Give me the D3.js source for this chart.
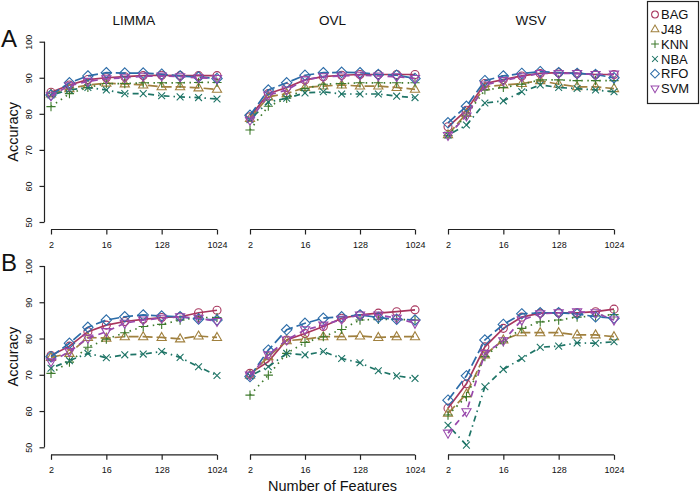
<!DOCTYPE html>
<html><head><meta charset="utf-8">
<script src="https://cdn.jsdelivr.net/npm/d3@7"></script>
<style>body{margin:0;background:#fff}svg{display:block;font-family:"Liberation Sans",Arial,sans-serif}</style>
</head><body><svg id="c" width="700" height="496"></svg>
<script>
const features = [2,4,8,16,32,64,128,256,512,1024];
const classifiers = ["BAG","J48","KNN","NBA","RFO","SVM"];
const methods = ["LIMMA","OVL","WSV"];
const panelLabels = ["A","B"];
const xTicks = [2,16,128,1024];
const yTicks = [50,60,70,80,90,100];
const colors = ["#A8365E","#A0803E","#3E7A2C","#1E7466","#2C6CA8","#9848AC"];
const dashes = ["none","10,4","1.5,4.5","1.5,4,6,4","10,4","6,5"];
const shapes = ["circle","triUp","plus","cross","diamond","triDown"];

// series order: BAG, J48, KNN, NBA, RFO, SVM
const accA_LIMMA = [
  [86,88,89.5,90,90.3,90.6,90.7,90.6,90.6,90.6],
  [85.5,87,88,88.5,88.3,88,87.5,87.5,87.2,86.8],
  [82,85.6,87.3,88.4,88.4,88.6,88.6,88.6,88.7,88.7],
  [85.2,86.6,87.3,86.6,85.6,85.6,85,84.7,84.5,84.1],
  [85.2,88.6,90.5,91.4,91.3,91.3,91,90.5,90.2,89.8],
  [85,87.8,89,89.7,90,90.4,90.5,90.3,90,89.8]
];
const accA_OVL = [
  [79.2,85.6,87.3,89.4,90.3,90.7,90.9,90.9,90.9,90.9],
  [78.7,84.7,85.6,87.3,87.7,88,87.7,87.7,87.3,86.8],
  [75.5,82.1,84.3,87,88.2,88.4,88.6,88.6,88.6,88.6],
  [78.4,83.3,84.3,85.8,86.1,85.5,85.5,85.5,84.9,84.5],
  [79.6,86.6,88.6,90.7,91.4,91.5,91.4,90.9,90.7,89.8],
  [78.2,85.2,86.6,89.4,90.3,90.5,90.7,90.5,90.3,89.8]
];
const accA_WSV = [
  [76.4,81,88.4,89.5,90.5,91.2,91.4,91.2,90.9,90.9],
  [74.2,80.1,87.5,88,88.4,89.2,88.2,87.5,87.5,87],
  [74,79.6,86.6,87.3,88.2,89.4,89.4,89.2,89.2,89.2],
  [74.1,76.9,83,83.6,86.1,88,87.3,87,86.6,86.1],
  [77.5,82.1,89.2,90.5,91.2,91.7,91.4,91.2,90.9,90],
  [74,79.4,88,89.2,90.3,91.2,91.2,91.2,90.9,91]
];
const accB_LIMMA = [
  [75.3,77.9,81.9,83.7,84.7,85.3,85.8,86,87.1,87.8],
  [74.8,75.9,80.3,80.1,80.5,80.5,80.3,79.9,80.7,80.3],
  [70.4,73.5,77.6,79.8,81.6,83.3,83.9,85.1,85.8,85.8],
  [71.8,73.9,75.9,74.7,75.5,75.7,76.4,74.8,72.2,69.8],
  [75,78.7,83.1,85.1,86,86.5,86.2,86,85.4,85.1],
  [73.6,76.4,80.1,81.9,84.2,85.1,85.6,86,85.6,84.7]
];
const accB_OVL = [
  [70.4,73.6,79.6,81.4,83.3,85.6,86.5,87,87.4,87.9],
  [69.9,75,79.4,79.8,80.5,80.5,80.7,80.3,80.5,80.5],
  [64.4,69.9,75.9,78.9,80.5,82.5,85.1,85.3,85.3,85.1],
  [69.7,72.2,75.9,75.5,76.4,74.5,73.3,71.1,69.7,69],
  [69.5,76.8,82.4,84.2,85.6,86,86.5,85.8,85.3,85.1],
  [69.9,75.5,79.6,82.4,83.7,85.3,86.5,86.5,85.6,84.2]
];
const accB_WSV = [
  [60.8,67.5,77.7,82.8,85.9,87,87.1,87.1,87.4,88.1],
  [59.4,64.7,75.5,79.6,81.6,81.6,81.6,81,81,80.5],
  [58.9,64,75,79.1,82.8,84.6,85.1,85.9,86.2,86.6],
  [56.1,50.6,66.7,71.5,74.5,77.6,77.9,78.8,78.7,79.1],
  [63,69.7,79.6,83.9,86.8,87.1,87.1,86.8,86,85.6],
  [53.9,59.8,75.9,79.4,85.1,86.8,87.1,87.4,87.1,85.1]
];
const panelData = [[accA_LIMMA,accA_OVL,accA_WSV],[accB_LIMMA,accB_OVL,accB_WSV]];

const svg = d3.select("#c");
const colX = [[51,217],[250,415],[448,614]];
const rowY = [[222,41.7],[447.3,266]];
const axisOff = 6.5;

function symbolPath(s){
  switch(s){
    case "circle": return "M4,0A4,4 0 1,1 -4,0A4,4 0 1,1 4,0Z";
    case "triUp": return "M0,-5L4.6,3L-4.6,3Z";
    case "triDown": return "M0,5L4.6,-3L-4.6,-3Z";
    case "plus": return "M-4.6,0H4.6M0,-4.6V4.6";
    case "cross": return "M-3.4,-3.4L3.4,3.4M-3.4,3.4L3.4,-3.4";
    case "diamond": return "M0,-5.2L5.2,0L0,5.2L-5.2,0Z";
  }
}

panelLabels.forEach((pl, r) => {
  const y = d3.scaleLinear().domain([50,100]).range(rowY[r]);
  methods.forEach((m, c) => {
    const x = d3.scaleLog().base(2).domain([2,1024]).range(colX[c]);
    const g = svg.append("g");
    const xa = g.append("g").attr("transform",`translate(0,${y(50)+axisOff+1})`)
      .call(d3.axisBottom(x).tickValues(xTicks).tickFormat(d3.format("d")).tickSize(5).tickPadding(7));
    xa.select(".domain").attr("stroke","#222").attr("stroke-width",1.2).attr("d",`M${x(2)},0H${x(1024)}`);
    xa.selectAll(".tick line").attr("stroke","#222").attr("stroke-width",1.2);
    xa.selectAll(".tick text").attr("font-size","9px").attr("fill","#111").attr("font-family","Liberation Sans, Arial, sans-serif");
    if (c === 0) {
      const ya = g.append("g").attr("transform",`translate(${x(2)-axisOff},0)`)
        .call(d3.axisLeft(y).tickValues(yTicks).tickSize(5).tickPadding(3));
      ya.select(".domain").attr("stroke","#222").attr("stroke-width",1.2).attr("d",`M0,${y(50)}V${y(100)}`);
      ya.selectAll(".tick line").attr("stroke","#222").attr("stroke-width",1.2);
      ya.selectAll(".tick text").attr("font-size","9px").attr("fill","#111")
        .attr("font-family","Liberation Sans, Arial, sans-serif")
        .attr("text-anchor","middle").attr("x",0).attr("y",0).attr("dy","0.35em")
        .attr("transform","translate(-16,0) rotate(-90)");
      svg.append("text").attr("transform",`translate(18,${(rowY[r][0]+rowY[r][1])/2}) rotate(-90)`)
        .attr("text-anchor","middle").attr("font-size","14.5px").attr("fill","#111").text("Accuracy");
    }
    const data = panelData[r][c];
    const line = d3.line().x((d,i)=>x(features[i])).y(d=>y(d));
    data.forEach((ser, k) => {
      g.append("path").attr("d",line(ser)).attr("fill","none").attr("stroke",colors[k])
        .attr("stroke-width",1.7).attr("stroke-dasharray",dashes[k]);
      g.selectAll(null).data(ser).enter().append("path")
        .attr("transform",(d,i)=>`translate(${x(features[i])},${y(d)})`)
        .attr("d",symbolPath(shapes[k])).attr("fill","none").attr("stroke",colors[k]).attr("stroke-width",1.1);
    });
    if (r === 0) {
      svg.append("text").attr("x",(colX[c][0]+colX[c][1])/2).attr("y",25).attr("text-anchor","middle")
        .attr("font-size","13.5px").attr("fill","#111").text(m);
    }
  });
  svg.append("text").attr("x",1).attr("y",r===0?47:271).attr("font-size","24px").attr("fill","#111").text(pl);
});

svg.append("text").attr("x",(colX[0][0]+colX[2][1])/2).attr("y",491).attr("text-anchor","middle")
  .attr("font-size","14.5px").attr("fill","#111").text("Number of Features");

const lg = svg.append("g");
lg.append("rect").attr("x",647.5).attr("y",1.5).attr("width",51).attr("height",102)
  .attr("fill","#fff").attr("stroke","#222").attr("stroke-width",1.2);
classifiers.forEach((name,k)=>{
  const yy = 14.5 + k*14.8;
  lg.append("path").attr("transform",`translate(655,${yy}) scale(0.85)`).attr("d",symbolPath(shapes[k]))
    .attr("fill","none").attr("stroke",colors[k]).attr("stroke-width",1.2);
  lg.append("text").attr("x",661).attr("y",yy).attr("dy","0.36em").attr("font-size","13px").attr("fill","#111").text(name);
});
</script></body></html>
